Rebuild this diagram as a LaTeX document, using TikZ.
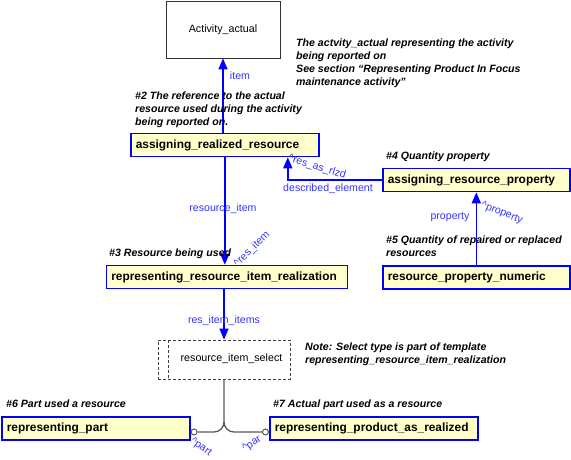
\documentclass[tikz,border=0pt]{standalone}
\usepackage{fontspec}
\setmainfont{Liberation Sans}
\usetikzlibrary{arrows.meta}
\definecolor{entfill}{RGB}{255,255,204}
\definecolor{linkblue}{RGB}{0,0,255}
\definecolor{lblblue}{RGB}{51,51,255}

\begin{document}
\begin{tikzpicture}[x=1pt, y=-1pt,
    ent/.style={draw=linkblue, line width=1.6pt, fill=entfill, anchor=west, inner xsep=5pt, inner ysep=0pt,
        minimum height=23pt, text width=#1, align=left, font=\fontsize{11.9}{14}\selectfont\bfseries},
    note/.style={anchor=north west, align=left, inner sep=0pt, font=\fontsize{10.6}{13}\selectfont\bfseries\itshape},
    lbl/.style={text=lblblue, inner sep=0pt, font=\fontsize{10.6}{13}\selectfont},
    link/.style={draw=linkblue, line width=1.6pt, -{Triangle[width=9pt,length=11pt]}},
    tree/.style={draw=black!65, line width=1.3pt},
    endpt/.style={circle, draw=black!65, line width=1pt, fill=white, minimum size=6pt, inner sep=0pt}]
    \useasboundingbox (0,0) rectangle (571,459);

    \node[draw=black!80, line width=0.8pt, minimum width=114pt, minimum height=57pt, inner sep=0pt,
        font=\fontsize{10.7}{13}\selectfont] (act) at (223,29.5) {Activity\_actual};
    \node[ent=178pt] (arr) at (130,145) {assigning\_realized\_resource};
    \node[ent=177pt] (arp) at (382,180) {assigning\_resource\_property};
    \node[ent=177pt] (rpn) at (382,277.5) {resource\_property\_numeric};
    \node[ent=231pt] (rrir) at (105.5,277) {representing\_resource\_item\_realization};
    \node[ent=178pt] (rp) at (1,428.5) {representing\_part};
    \node[ent=198pt] (rpar) at (269,428.5) {representing\_product\_as\_realized};

    \node[draw=black!75, dash pattern=on 3pt off 2pt, line width=0.8pt, minimum width=132pt, minimum height=39pt,
        inner sep=0pt] (sel) at (224,359.5) {};
    \draw[black!75, dash pattern=on 3pt off 2pt, line width=0.8pt] ([xshift=11pt]sel.north west) -- ([xshift=11pt]sel.south west);
    \node[font=\fontsize{10.7}{13}\selectfont] (seltxt) at (231.5,359) {resource\_item\_select};

    \draw[link] (act.south |- arr.north) -- (act.south);
    \draw[link] (arp.west) -| ([xshift=63pt]arr.south);
    \draw[link] (rpn.north) -- (arp.south);
    \draw[link] (arr.south) -- (arr.south |- rrir.north);
    \draw[link] (sel.north |- rrir.south) -- (sel.north);

    \node[endpt, anchor=west] (pe1) at ([yshift=-3.5pt]rp.east) {};
    \node[endpt, anchor=east] (pe2) at ([yshift=-3.5pt]rpar.west) {};
    \coordinate (fork) at (224,422);
    \coordinate (forkl) at (214,432);
    \coordinate (forkr) at (234,432);
    \draw[tree] (sel.south) -- (fork) .. controls (224,427.5) and (219.5,432) .. (forkl) -- (pe1);
    \draw[tree] (fork) .. controls (224,427.5) and (228.5,432) .. (forkr) -- (pe2);

    \node[lbl] (itemlbl) at (240,76) {item};
    \node[lbl, rotate=-17] (rarlbl) at (317,167) {\textasciicircum res\_as\_rlzd};
    \node[lbl] (delbl) at (328,189) {described\_element};
    \node[lbl] (proplbl) at (450,217) {property};
    \node[lbl, rotate=-22] (iproplbl) at (502,213) {\textasciicircum property};
    \node[lbl] (rilbl) at (223,209) {resource\_item};
    \node[lbl, rotate=45] (irilbl) at (252,249) {\textasciicircum res\_item};
    \node[lbl] (riilbl) at (224,321) {res\_item\_items};
    \node[lbl, rotate=-35] (partlbl) at (201,447) {\textasciicircum part};
    \node[lbl, rotate=35] (parlbl) at (252,444) {\textasciicircum par};

    \node[note] (nact) at (296,39) {The actvity\_actual representing the activity\\being reported on\\See section “Representing Product In Focus\\maintenance activity”};
    \node[note] (n2) at (135,92) {\#2 The reference to the actual\\resource used during the activity\\being reported on.};
    \node[note] (n4) at (386,152) {\#4 Quantity property};
    \node[note] (n5) at (386,236) {\#5 Quantity of repaired or replaced\\resources};
    \node[note] (n3) at (109,249) {\#3 Resource being used};
    \node[note] (nsel) at (305,343) {Note: Select type is part of template\\representing\_resource\_item\_realization};
    \node[note] (n6) at (6,400) {\#6 Part used a resource};
    \node[note] (n7) at (273,400) {\#7 Actual part used as a resource};
\end{tikzpicture}
\end{document}
